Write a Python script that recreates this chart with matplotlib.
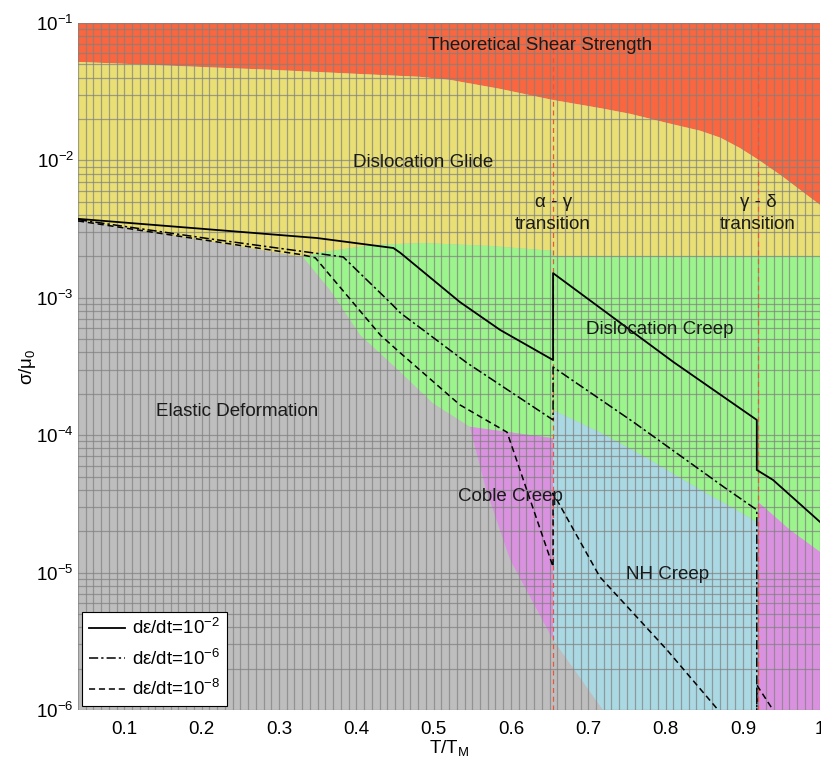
import numpy as np
import matplotlib
matplotlib.use("Agg")
import matplotlib.pyplot as plt
from matplotlib.ticker import FixedLocator, LogLocator, MultipleLocator, FixedFormatter

plt.rcParams['font.family'] = ['Liberation Sans', 'DejaVu Sans']
plt.rcParams['mathtext.fontset'] = 'custom'
plt.rcParams['mathtext.rm'] = 'Liberation Sans'
plt.rcParams['mathtext.it'] = 'Liberation Sans:italic'

# ---------------- data (T/T_M, sigma/mu_0) ----------------
# lower edge of theoretical shear strength
shear_T = [0.04, 0.292, 0.482, 0.521, 0.586, 0.654, 0.715, 0.754, 0.802, 0.845, 0.871, 0.896,
           0.920, 0.952, 0.974, 1.0]
shear_s = [5.2e-2, 4.55e-2, 4.05e-2, 3.85e-2, 3.31e-2, 2.75e-2, 2.4e-2, 2.18e-2, 1.87e-2, 1.64e-2,
           1.46e-2, 1.23e-2, 1.01e-2, 7.57e-3, 6.09e-3, 4.73e-3]

# lower edge of dislocation glide
glide_T = [0.04, 0.185, 0.331, 0.357, 0.422, 0.486, 0.573, 0.6545, 0.6545, 1.0]
glide_s = [3.68e-3, 2.72e-3, 1.98e-3, 2.15e-3, 2.42e-3, 2.5e-3, 2.38e-3, 2.19e-3, 2.01e-3, 2.01e-3]

# lower edge of dislocation creep
creep_T = [0.331, 0.366, 0.405, 0.457, 0.499, 0.547, 0.6545, 0.6545, 0.715, 0.780, 0.845, 0.896,
           0.9195, 0.9195, 0.961, 1.0]
creep_s = [1.98e-3, 1.14e-3, 5.36e-4, 2.88e-4, 1.71e-4, 1.15e-4, 9.5e-5, 1.52e-4, 1.05e-4, 6.6e-5,
           4.0e-5, 2.76e-5, 2.3e-5, 3.27e-5, 2.04e-5, 1.41e-5]

# Coble creep (alpha phase)
coble1_T = [0.547, 0.6545, 0.6545, 0.599, 0.568]
coble1_s = [1.15e-4, 9.5e-5, 3.24e-6, 1.24e-5, 4.0e-5]
# Coble creep (delta phase)
coble2_T = [0.9195, 0.961, 1.0, 1.0, 0.9195]
coble2_s = [3.27e-5, 2.04e-5, 1.41e-5, 1e-6, 1e-6]
# Nabarro-Herring creep
nh_T = [0.6545, 0.715, 0.780, 0.845, 0.896, 0.9195, 0.9195, 0.719, 0.6545]
nh_s = [1.52e-4, 1.05e-4, 6.6e-5, 4.0e-5, 2.76e-5, 2.3e-5, 1e-6, 1e-6, 3.24e-6]

# phase transitions
trans_T = [0.6545, 0.9195]
trans_labels = ['α - γ\ntransition', 'γ - δ\ntransition']

# strain-rate contours
rate2_T = [0.04, 0.349, 0.448, 0.457, 0.534, 0.586, 0.6545, 0.6545, 0.81, 0.918, 0.918, 0.939, 1.0]
rate2_s = [3.75e-3, 2.72e-3, 2.30e-3, 2.12e-3, 9.3e-4, 5.83e-4, 3.52e-4, 1.51e-3, 3.41e-4, 1.29e-4,
           5.58e-5, 4.72e-5, 2.33e-5]
rate6_T = [0.04, 0.211, 0.383, 0.444, 0.457, 0.543, 0.6545, 0.6545, 0.758, 0.877, 0.918, 0.918]
rate6_s = [3.7e-3, 2.68e-3, 1.98e-3, 9.2e-4, 7.75e-4, 3.36e-4, 1.29e-4, 3.13e-4, 1.25e-4, 4.13e-5,
           2.86e-5, 5e-7]
rate8_T = [0.04, 0.331, 0.347, 0.431, 0.457, 0.534, 0.595, 0.6545, 0.6545, 0.715, 0.758, 0.802,
           0.868, 0.918, 0.918, 0.939, 0.974]
rate8_s = [3.62e-3, 2.05e-3, 1.95e-3, 5.36e-4, 3.96e-4, 1.66e-4, 1.05e-4, 1.1e-5, 3.79e-5, 9.3e-6,
           5.08e-6, 2.73e-6, 1e-6, 4e-7, 1.52e-6, 1e-6, 5.6e-7]
rate_labels = ['dε/dt=10$^{-2}$', 'dε/dt=10$^{-6}$', 'dε/dt=10$^{-8}$']

region_names = ['Theoretical Shear Strength', 'Dislocation Glide', 'Dislocation Creep',
                'Elastic Deformation', 'Coble Creep', 'NH Creep']
region_T = [0.638, 0.486, 0.793, 0.246, 0.599, 0.802]
region_s = [6.9e-2, 9.7e-3, 5.83e-4, 1.48e-4, 3.55e-5, 9.6e-6]

xticks = [0.1, 0.2, 0.3, 0.4, 0.5, 0.6, 0.7, 0.8, 0.9, 1.0]
xticklabels = ['0.1', '0.2', '0.3', '0.4', '0.5', '0.6', '0.7', '0.8', '0.9', '1']

# ---------------- colours ----------------
c_red = '#F9663F'
c_yellow = '#E9DF74'
c_green = '#9CF58C'
c_gray = '#BEBEBE'
c_mag = '#DA92E0'
c_blue = '#AAD9E4'

FS = 13.5

fig = plt.figure(figsize=(8.21, 7.63), dpi=100)
ax = fig.add_axes([0.095, 0.0695, 0.904, 0.9005])
ax.set_yscale('log')
ax.set_xlim(0.04, 1.0)
ax.set_ylim(1e-6, 1e-1)
ax.set_facecolor(c_gray)

ax.fill(shear_T + [1.0, 0.04], shear_s + [1e-1, 1e-1], color=c_red, lw=0, zorder=1)
ax.fill(shear_T + glide_T[::-1], shear_s + glide_s[::-1], color=c_yellow, lw=0, zorder=1)
ax.fill(glide_T[2:] + creep_T[::-1], glide_s[2:] + creep_s[::-1], color=c_green, lw=0, zorder=1)
ax.fill(coble1_T, coble1_s, color=c_mag, lw=0, zorder=1)
ax.fill(coble2_T, coble2_s, color=c_mag, lw=0, zorder=1)
ax.fill(nh_T, nh_s, color=c_blue, lw=0, zorder=1)

# grid
ax.xaxis.set_major_locator(FixedLocator(xticks))
ax.xaxis.set_major_formatter(FixedFormatter(xticklabels))
ax.xaxis.set_minor_locator(MultipleLocator(0.01))
ax.yaxis.set_major_locator(LogLocator(base=10, numticks=10))
ax.yaxis.set_minor_locator(LogLocator(base=10, subs=np.arange(2, 10), numticks=20))
ax.grid(True, which='both', color='#808080', lw=0.9, alpha=0.7, zorder=2)
ax.set_axisbelow(False)

# transitions
for t, lab in zip(trans_T, trans_labels):
    ax.axvline(t, color='#E8553A', lw=0.9, ls=(0, (4, 3)), zorder=3)
    ax.text(t, 4.1e-3, lab, ha='center', va='center', fontsize=FS, zorder=5,
            linespacing=1.4, color='#1a1a1a')

# strain-rate lines
l1, = ax.plot(rate2_T, rate2_s, color='black', lw=1.3, ls='-', zorder=4)
l2, = ax.plot(rate6_T, rate6_s, color='black', lw=1.1, ls=(0, (6, 2, 1.5, 2)), zorder=4)
l3, = ax.plot(rate8_T, rate8_s, color='black', lw=1.1, ls=(0, (4, 2.5)), zorder=4)

for name, t, s in zip(region_names, region_T, region_s):
    ax.text(t, s, name, ha='center', va='center', fontsize=FS, color='#1a1a1a', zorder=5)

leg = ax.legend([l1, l2, l3], rate_labels, loc='lower left', bbox_to_anchor=(0.006, 0.006),
                borderaxespad=0, fontsize=FS, handlelength=1.9, handletextpad=0.4,
                fancybox=False, framealpha=1, edgecolor='black', labelspacing=0.55,
                borderpad=0.35)
leg.get_frame().set_linewidth(0.8)
leg.set_zorder(6)

for sp in ax.spines.values():
    sp.set_visible(False)
ax.tick_params(which='both', length=0, labelsize=FS)
ax.tick_params(axis='x', pad=8)
ax.tick_params(axis='y', pad=3)
ax.set_xlabel('T/T$_\\mathregular{M}$', fontsize=FS, labelpad=0)
ax.set_ylabel('σ/μ$_\\mathregular{0}$', fontsize=FS, labelpad=-1)

fig.savefig('out.png', dpi=100)
